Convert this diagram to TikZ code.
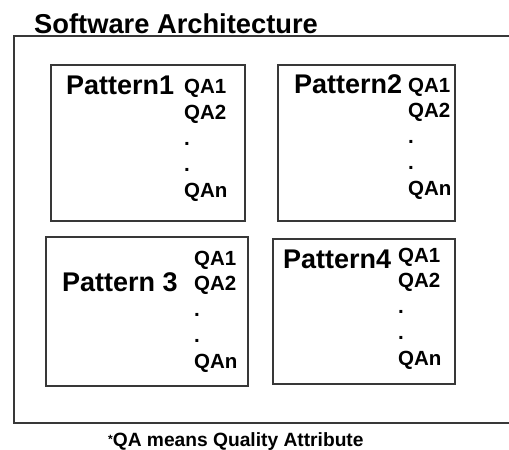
\documentclass[tikz,border=0pt]{standalone}
\usepackage{fontspec}
\setmainfont{Liberation Sans}
\begin{document}
\begin{tikzpicture}[x=1pt,y=-1pt,
  frame/.style={draw=black!78,line width=1.6pt},
  pbox/.style={draw=black!78,line width=1.6pt,inner sep=0pt,outer sep=0pt},
  ptitle/.style={anchor=base west,inner sep=0pt,font=\fontsize{27}{27}\selectfont\bfseries},
  qa/.style={anchor=base west,inner sep=0pt,font=\fontsize{20.5}{20.5}\selectfont\bfseries},
  heading/.style={anchor=base west,inner sep=0pt,font=\fontsize{27.3}{27.3}\selectfont\bfseries},
  note/.style={anchor=base west,inner sep=0pt,font=\fontsize{19.2}{19.2}\selectfont\bfseries}]
\useasboundingbox (0,0) rectangle (509,450);
% outer frame (right side beyond the picture)
\coordinate (fa) at (509,36);
\coordinate (fb) at (14,36);
\coordinate (fc) at (14,423);
\coordinate (fd) at (509,423);
\draw[frame] (fa) -- (fb) -- (fc) -- (fd);
\node[heading] (title) at (34,33) {Software Architecture};
% pattern boxes
\node[pbox,minimum width=194pt,minimum height=156pt] (b1) at (148,143) {};
\node[pbox,minimum width=177pt,minimum height=156pt] (b2) at (366.5,143) {};
\node[pbox,minimum width=202pt,minimum height=149pt] (b3) at (147,311.5) {};
\node[pbox,minimum width=182pt,minimum height=145pt] (b4) at (364,311.5) {};
% pattern titles
\node[ptitle] (t1) at (66,94) {Pattern1};
\node[ptitle] (t2) at (294,93) {Pattern2};
\node[ptitle] (t3) at (62,291) {Pattern 3};
\node[ptitle] (t4) at (283,268) {Pattern4};
% quality attributes
\foreach \t [count=\i] in {QA1,QA2,.,.,QAn}{
  \node[qa] (q1\i) at ({184},{93+26.2*(\i-1)}) {\t};
  \node[qa] (q2\i) at ({408},{92+25.8*(\i-1)}) {\t};
  \node[qa] (q3\i) at ({194},{265+25.8*(\i-1)}) {\t};
  \node[qa] (q4\i) at ({398},{262+25.8*(\i-1)}) {\t};
}
\node[note] (fn) at (108,446.5) {\raisebox{3.5pt}{\fontsize{12}{12}\selectfont *}QA means Quality Attribute};
\end{tikzpicture}
\end{document}
